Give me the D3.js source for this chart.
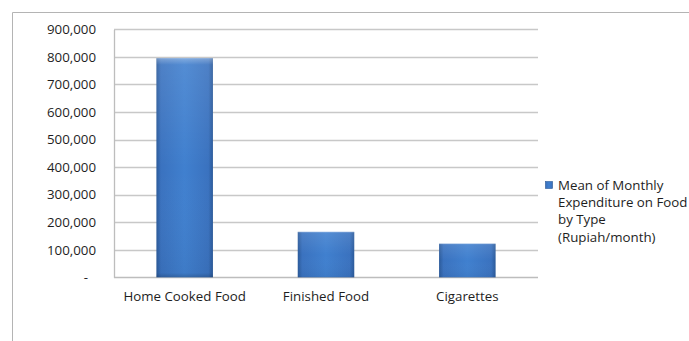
<!DOCTYPE html>
<html>
<head>
<meta charset="utf-8">
<script src="https://cdn.jsdelivr.net/npm/d3@7"></script>
<style>
  html, body { margin: 0; padding: 0; background: #fff; }
  svg { display: block; }
  text { font-family: "Open Sans", "Liberation Sans", sans-serif; fill: #1e1e1e; }
</style>
</head>
<body>
<svg id="chart" width="689" height="341"></svg>
<script>
// Mean monthly household expenditure by food type (Rupiah/month)
const categories = ["Home Cooked Food", "Finished Food", "Cigarettes"];
const values = [795000, 165000, 122000];
const yTicks = [0, 100000, 200000, 300000, 400000, 500000, 600000, 700000, 800000, 900000];
const legendLines = ["Mean of Monthly", "Expenditure on Food", "by Type", "(Rupiah/month)"];

const svg = d3.select("#chart");
const plot = { left: 114, right: 538, top: 29.3, bottom: 277.3 };
const fontSize = "13.3px";

// Outer chart frame (top and left edges)
svg.append("path")
  .attr("d", "M12.5,341 L12.5,12.5 L689,12.5")
  .attr("fill", "none")
  .attr("stroke", "#b4b4b4")
  .attr("stroke-width", 1);

// Gradients for the bevelled bars
const defs = svg.append("defs");
const hg = defs.append("linearGradient").attr("id", "barH").attr("x1", 0).attr("x2", 1).attr("y1", 0).attr("y2", 0);
[[0, "#2b5a9a"], [0.08, "#3a72bf"], [0.5, "#4080cf"], [0.92, "#3a72bf"], [1, "#2b5a9a"]]
  .forEach(([o, c]) => hg.append("stop").attr("offset", o).attr("stop-color", c));
const vg = defs.append("linearGradient").attr("id", "barV").attr("x1", 0).attr("x2", 0).attr("y1", 0).attr("y2", 1);
[[0, "#ffffff", 0.35], [0.03, "#ffffff", 0.1], [0.5, "#ffffff", 0], [0.98, "#000000", 0.04], [1, "#000000", 0.2]]
  .forEach(([o, c, a]) => vg.append("stop").attr("offset", o).attr("stop-color", c).attr("stop-opacity", a));

const x = d3.scaleBand().domain(categories).range([plot.left, plot.right]).paddingInner(0.6).paddingOuter(0.3);
const y = d3.scaleLinear().domain([0, 900000]).range([plot.bottom, plot.top]);

// Horizontal gridlines
svg.append("g").selectAll("line").data(yTicks.slice(1)).join("line")
  .attr("x1", plot.left).attr("x2", plot.right)
  .attr("y1", d => Math.round(y(d)) + 0.5).attr("y2", d => Math.round(y(d)) + 0.5)
  .attr("stroke", "#c8c8c8").attr("stroke-width", 1.3);

// Y axis (left plot edge and baseline)
const yAxis = d3.axisLeft(y).tickValues(yTicks).tickSize(0).tickPadding(18)
  .tickFormat(d => d === 0 ? "-" : d3.format(",")(d));
const gy = svg.append("g").attr("transform", `translate(${plot.left},0)`).call(yAxis);
gy.select(".domain").attr("stroke", "#bdbdbd").attr("stroke-width", 1.3);
gy.selectAll("text").style("font-size", fontSize).attr("fill", "#1e1e1e");
gy.selectAll(".tick").filter(d => d === 0).select("text").attr("dx", -8);

svg.append("line")
  .attr("x1", plot.left).attr("x2", plot.right)
  .attr("y1", Math.round(y(0)) + 0.5).attr("y2", Math.round(y(0)) + 0.5)
  .attr("stroke", "#bdbdbd").attr("stroke-width", 1.3);

// Bars
const bars = svg.append("g").selectAll("g").data(categories).join("g");
bars.append("rect")
  .attr("x", d => x(d)).attr("width", x.bandwidth())
  .attr("y", (d, i) => y(values[i])).attr("height", (d, i) => y(0) - y(values[i]))
  .attr("fill", "url(#barH)");
bars.append("rect")
  .attr("x", d => x(d)).attr("width", x.bandwidth())
  .attr("y", (d, i) => y(values[i])).attr("height", (d, i) => y(0) - y(values[i]))
  .attr("fill", "url(#barV)");

// X axis labels
const xAxis = d3.axisBottom(x).tickSize(0).tickPadding(14);
const gx = svg.append("g").attr("transform", `translate(0,${plot.bottom})`).call(xAxis);
gx.select(".domain").remove();
gx.selectAll("text").style("font-size", fontSize).attr("fill", "#1e1e1e");

// Legend
const lg = svg.append("g").attr("transform", "translate(545,181)");
lg.append("rect").attr("x", 0.5).attr("y", 0.5).attr("width", 7).attr("height", 7)
  .attr("fill", "url(#barH)").attr("stroke", "#2b5a9a").attr("stroke-width", 0.6);
lg.selectAll("text").data(legendLines).join("text")
  .attr("x", 13).attr("y", (d, i) => 8.5 + i * 17.4)
  .style("font-size", fontSize).attr("fill", "#1e1e1e")
  .text(d => d);
</script>
</body>
</html>
